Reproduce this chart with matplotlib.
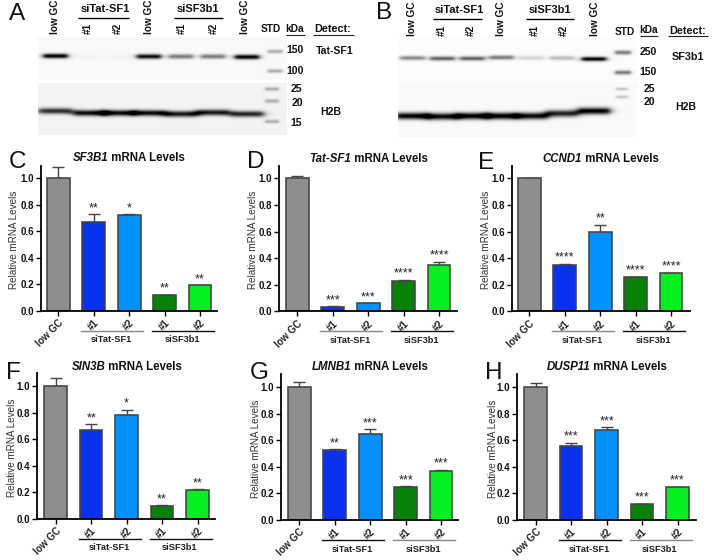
import numpy as np
import matplotlib
matplotlib.use("Agg")
import matplotlib.pyplot as plt

plt.rcParams['font.family'] = ['Liberation Sans', 'DejaVu Sans']
W, H = 713, 560

# ---------- bar chart data ----------
categories = ['low GC', '#1', '#2', '#1', '#2']
sf3b1_vals = [1.0, 0.67, 0.72, 0.12, 0.19]
sf3b1_errs = [0.08, 0.055, 0.006, 0.002, 0.004]
sf3b1_sig = ['', '**', '*', '**', '**']
tatsf1_vals = [1.0, 0.035, 0.06, 0.23, 0.35]
tatsf1_errs = [0.018, 0.002, 0.002, 0.008, 0.022]
tatsf1_sig = ['', '***', '***', '****', '****']
ccnd1_vals = [1.0, 0.35, 0.60, 0.255, 0.285]
ccnd1_errs = [0.0, 0.008, 0.05, 0.004, 0.005]
ccnd1_sig = ['', '****', '**', '****', '****']
sin3b_vals = [1.0, 0.67, 0.785, 0.10, 0.22]
sin3b_errs = [0.065, 0.045, 0.04, 0.005, 0.006]
sin3b_sig = ['', '**', '*', '**', '**']
lmnb1_vals = [1.0, 0.53, 0.65, 0.25, 0.37]
lmnb1_errs = [0.04, 0.002, 0.035, 0.005, 0.008]
lmnb1_sig = ['', '**', '***', '***', '***']
dusp11_vals = [1.0, 0.56, 0.675, 0.12, 0.245]
dusp11_errs = [0.032, 0.022, 0.022, 0.003, 0.006]
dusp11_sig = ['', '***', '***', '***', '***']
bar_colors = ['#8e8e8e', '#0a32ee', '#0090ff', '#078207', '#00f020']

# ---------- blot data (band strength per lane) ----------
a_tat = [1.0, 0.02, 0.02, 0.95, 0.5, 0.5, 1.0]
a_h2b = [0.8, 0.95, 0.95, 0.95, 0.9, 0.9, 0.85]
b_sf3 = [0.45, 0.6, 0.6, 0.5, 0.15, 0.25, 1.0]
b_h2b = [1.0, 0.95, 1.0, 1.0, 0.95, 0.85, 1.0]

fig = plt.figure(figsize=(W / 100, H / 100), dpi=100, facecolor='white')
pix = fig.add_axes([0, 0, 1, 1], zorder=0)
pix.set_axis_off()


def blot(x0, x1, y0, y1, bg, bands):
    xs = np.arange(x0, x1) + .5
    ys = np.arange(y0, y1) + .5
    X, Y = np.meshgrid(xs, ys)
    dark = np.zeros_like(X)
    for cx, w, cy, sig, amp in bands:
        dark += amp * np.exp(-((Y - cy) / sig) ** 2) / (1 + ((X - cx) / (w / 2)) ** 8)
    img = bg * (1 - np.clip(dark, 0, 1))
    pix.imshow(img, cmap='gray', vmin=0, vmax=1, extent=(x0, x1, y1, y0),
               aspect='auto', interpolation='bilinear')


a_x = [55.5, 90, 118.5, 149, 181, 213, 247]
a_top_y = [56, 57, 57, 56.5, 56.5, 56.5, 57]
a_h2b_y = [111, 113, 113, 113, 114, 112.5, 114]
a_ladder = [51.5, 71, 89, 101, 121.5]
bands = [(x, 25, y, 2.4, s) for x, y, s in zip(a_x, a_top_y, a_tat)]
bands += [(275, 15, y, 2.0, .3) for y in a_ladder[:2]]
blot(38, 287, 37, 80, .975, bands)
bands = [(x, 34, y, 3.0, s) for x, y, s in zip(a_x, a_h2b_y, a_h2b)]
bands += [(272, 14, y, 2.0, .28) for y in a_ladder[2:]]
blot(38, 287, 83, 135, .955, bands)

b_x = [412.5, 442.5, 472.5, 501.5, 531.5, 562, 594]
b_top_y = [58, 58.5, 58.5, 57.5, 58, 58, 59]
b_h2b_y = [116, 116.5, 116, 116, 116, 113.5, 111]
b_ladder = [52.5, 72.5, 89, 97]
bands = [(x, 25, y, 2.2, s) for x, y, s in zip(b_x, b_top_y, b_sf3)]
bands += [(623, 16, y, 2.2, .5) for y in b_ladder[:2]]
blot(398, 637, 38, 85, .985, bands)
bands = [(x, 33, y, 3.4, s) for x, y, s in zip(b_x, b_h2b_y, b_h2b)]
bands += [(622, 12, y, 1.6, .2) for y in b_ladder[2:]]
blot(398, 637, 85, 137, .975, bands)


def t(x, y, s, size=7.3, weight='bold', rot=0, ha='center', va='center', color='#111111', style='normal'):
    return pix.text(x, y, s, fontsize=size, fontweight=weight, rotation=rot, ha=ha, va=va,
                    color=color, fontstyle=style, rotation_mode='anchor')


def hline(x0, x1, y, color='black', lw=1.0):
    pix.plot([x0, x1], [y, y], color=color, lw=lw, solid_capstyle='butt')


# blot A annotations
for x, s in zip([55, 87.5, 117.5, 149, 181.5, 213.5, 245], ['low GC', '#1', '#2', 'low GC', '#1', '#2', 'low GC']):
    pix.text(x, 34, s, rotation=90, fontsize=7.2, fontweight='bold', ha='center', va='bottom', color='#111111')
t(105.5, 9, 'siTat-SF1', 8)
t(197.5, 9, 'siSF3b1', 8)
hline(78, 128.5, 17.5)
hline(174, 222.5, 17.5)
t(271, 29.5, 'STD', 7.3)
t(295, 29.5, 'kDa', 7.3)
hline(286, 304.5, 34.5, '#222222', .8)
t(333, 28.5, 'Detect:', 7.8)
hline(313, 354, 34.5, '#222222', .8)
for x, y, s in [(295, 50, '150'), (295, 71, '100'), (296, 89.5, '25'), (297, 103.5, '20'), (296, 122.5, '15')]:
    t(x, y, s, 7.6)
t(334.5, 51, 'Tat-SF1', 7.6)
t(331, 112, 'H2B', 7.6)

# blot B annotations
for x, s in zip([412, 441.5, 471, 501, 534.5, 563.5, 595.5], ['low GC', '#1', '#2', 'low GC', '#1', '#2', 'low GC']):
    pix.text(x, 35.5, s, rotation=90, fontsize=7.2, fontweight='bold', ha='center', va='bottom', color='#111111')
t(459, 10, 'siTat-SF1', 8)
t(549.5, 10, 'siSF3b1', 8)
hline(432.5, 481.5, 18.5)
hline(525.5, 574, 18.5)
t(625, 32, 'STD', 7.3)
t(649, 30, 'kDa', 7.3)
hline(640, 658, 35.5, '#222222', .8)
t(688, 30.5, 'Detect:', 7.8)
hline(668, 708, 36, '#222222', .8)
for x, y, s in [(648.5, 52, '250'), (648.5, 72, '150'), (649.5, 89.5, '25'), (649.5, 102, '20')]:
    t(x, y, s, 7.6)
t(687.5, 57.5, 'SF3b1', 7.8)
t(686, 107.5, 'H2B', 7.6)

# panel letters
for x, y, s in [(17, 14, 'A'), (384, 13, 'B'), (17, 162, 'C'), (256, 162, 'D'), (486, 163, 'E'),
                (13, 373, 'F'), (259, 373, 'G'), (494, 373, 'H')]:
    t(x, y, s, 17.5, 'normal', color='#111111')

pix.set_xlim(0, W)
pix.set_ylim(H, 0)

SPACING = 35.45
panels = [
    ('SF3B1', sf3b1_vals, sf3b1_errs, sf3b1_sig, 40.7, 217, 310.7, 178, 165.7, 58.3, 129, 158, 14, '#888888', '#111111'),
    ('Tat-SF1', tatsf1_vals, tatsf1_errs, tatsf1_sig, 279.3, 456.7, 311.3, 178.3, 165.7, 297.3, 369, 158.5, 253, '#888888', '#111111'),
    ('CCND1', ccnd1_vals, ccnd1_errs, ccnd1_sig, 511.7, 689.7, 311.3, 178.3, 165.7, 529.3, 601, 159, 486, '#888888', '#111111'),
    ('SIN3B', sin3b_vals, sin3b_errs, sin3b_sig, 37.3, 215, 519, 386.3, 373.3, 55.7, 127, 366.5, 12, '#111111', '#111111'),
    ('LMNB1', lmnb1_vals, lmnb1_errs, lmnb1_sig, 280.7, 458.3, 520, 387.3, 374, 299.3, 370, 367.5, 256, '#111111', '#888888'),
    ('DUSP11', dusp11_vals, dusp11_errs, dusp11_sig, 517.3, 695.7, 520, 387, 374, 535.7, 607, 367.5, 493, '#111111', '#888888'),
]

for gene, vals, errs, sig, xl, xr, y0, y1, ytop, c0, title_x, title_y, lab_x, col1, col2 in panels:
    ax = fig.add_axes([xl / W, 1 - y0 / H, (xr - xl) / W, (y0 - ytop) / H], zorder=2)
    ax.patch.set_alpha(0)
    unit = y0 - y1
    x = np.arange(len(vals))
    ax.bar(x, vals, width=0.64, color=bar_colors, edgecolor='#444444', linewidth=1.15, zorder=2)
    ax.errorbar(x, vals, yerr=[np.zeros(len(errs)), errs], fmt='none', ecolor='#444444',
                elinewidth=1.0, capsize=4.6, capthick=1.0, zorder=1)
    ax.set_xlim((xl - c0) / SPACING, (xr - c0) / SPACING)
    ax.set_ylim(0, (y0 - ytop) / unit)
    ax.set_yticks([0, .2, .4, .6, .8, 1.0])
    ax.set_yticklabels(['0.0', '0.2', '0.4', '0.6', '0.8', '1.0'], fontsize=7.0, fontweight='bold', color='#111111')
    ax.set_xticks(x)
    ax.set_xticklabels(categories, fontsize=7.0, fontweight='bold', rotation=45, ha='right',
                       rotation_mode='anchor', color='#222222')
    ax.tick_params(axis='both', length=3.5, width=1.0, pad=1.5, color='black')
    for side in ('top', 'right'):
        ax.spines[side].set_visible(False)
    for side in ('left', 'bottom'):
        ax.spines[side].set_linewidth(1.3)
    tr = ax.get_xaxis_transform()
    ax.plot([0.65, 2.4], [-20 / (y0 - ytop)] * 2, transform=tr, color=col1, lw=1.0, clip_on=False)
    ax.plot([2.65, 4.4], [-20 / (y0 - ytop)] * 2, transform=tr, color=col2, lw=1.0, clip_on=False)
    ax.text(1.5, -29 / (y0 - ytop), 'siTat-SF1', transform=tr, ha='center', va='center', fontsize=6.7,
            fontweight='bold', color='#222222')
    ax.text(3.5, -29 / (y0 - ytop), 'siSF3b1', transform=tr, ha='center', va='center', fontsize=6.7,
            fontweight='bold', color='#222222')
    for i, s in enumerate(sig):
        if s:
            ax.annotate(s, (i, vals[i] + errs[i]), xytext=(0, 0), textcoords='offset points',
                        ha='center', va='bottom', fontsize=9, color='#222222')
    # title: italic gene name followed by plain bold words, as one centred run
    gene_txt = pix.text(0, 0, gene, fontsize=8.3, fontweight='bold', fontstyle='italic', color='#111111', va='center')
    rest_txt = pix.text(0, 0, ' mRNA Levels', fontsize=8.3, fontweight='bold', color='#111111', va='center')
    r = fig.canvas.get_renderer()
    gw = gene_txt.get_window_extent(r).width
    rw = rest_txt.get_window_extent(r).width
    start = title_x - (gw + rw) / 2
    gene_txt.set_position((start, title_y))
    rest_txt.set_position((start + gw, title_y))
    pix.text(lab_x, (y0 + y1) / 2 - 5, 'Relative mRNA Levels', rotation=90, fontsize=7.1, ha='center', va='center',
             color='#333333')

fig.savefig('out.png', dpi=100)
